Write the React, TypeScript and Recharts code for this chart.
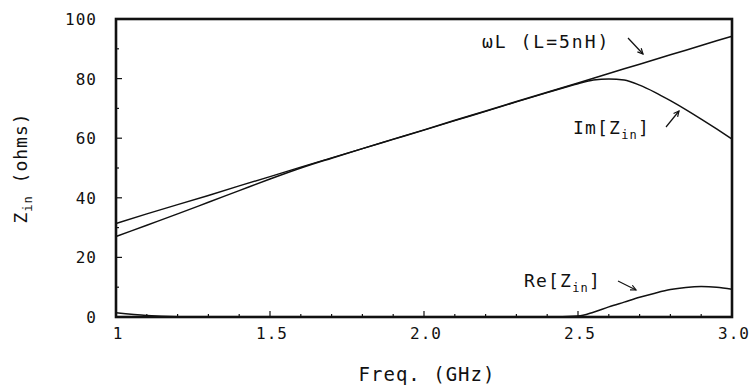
import React from "react";
import { LineChart, Line, XAxis, YAxis } from "recharts";

// values
const freq = [1.0, 1.1, 1.2, 1.3, 1.4, 1.5, 1.6, 1.7, 1.8, 1.9, 2.0, 2.1, 2.2, 2.3, 2.4, 2.5, 2.55, 2.6, 2.65, 2.7, 2.75, 2.8, 2.85, 2.9, 2.95, 3.0];
const omegaL = [31.4, 34.6, 37.7, 40.8, 44.0, 47.1, 50.3, 53.4, 56.5, 59.7, 62.8, 66.0, 69.1, 72.3, 75.4, 78.5, 80.1, 81.7, 83.3, 84.8, 86.4, 88.0, 89.5, 91.1, 92.7, 94.2];
const imZin = [27.0, 30.8, 34.6, 38.5, 42.4, 46.3, 50.0, 53.3, 56.5, 59.6, 62.7, 65.9, 69.0, 72.2, 75.3, 78.3, 79.5, 79.9, 79.5, 77.8, 75.4, 72.6, 69.6, 66.4, 63.1, 59.7];
const reZin = [1.4, 0.5, 0.1, 0, 0, 0, 0, 0, 0, 0, 0, 0, 0, 0, 0, 0.3, 1.6, 3.4, 5.0, 6.6, 8.0, 9.2, 9.9, 10.2, 10.0, 9.3];

const xTicks = [1.0, 1.1, 1.2, 1.3, 1.4, 1.5, 1.6, 1.7, 1.8, 1.9, 2.0, 2.1, 2.2, 2.3, 2.4, 2.5, 2.6, 2.7, 2.8, 2.9, 3.0];
const xTickLabels: Record<string, string> = { "1": "1", "1.5": "1.5", "2": "2.0", "2.5": "2.5", "3": "3.0" };
const yTicks = [0, 10, 20, 30, 40, 50, 60, 70, 80, 90, 100];
const yTickLabels: Record<string, string> = { "0": "0", "20": "20", "40": "40", "60": "60", "80": "80", "100": "100" };

const data = freq.map((f, i) => ({ f, wl: omegaL[i], im: imZin[i], re: reZin[i] }));

const FONT = "'DejaVu Sans Mono', monospace";
const INK = "#111";

// chart box
const W = 754;
const H = 389;
const MARGIN = { top: 19, right: 22, bottom: 42, left: 56 };
const Y_AXIS_W = 60;
const X_AXIS_H = 30;
const plot = {
  left: MARGIN.left + Y_AXIS_W,
  top: MARGIN.top,
  width: W - MARGIN.left - Y_AXIS_W - MARGIN.right,
  height: H - MARGIN.top - MARGIN.bottom - X_AXIS_H,
};

const key = (v: number) => String(Math.round(v * 10) / 10);

function BottomTick(props: any) {
  const { x, y, payload } = props;
  const label = xTickLabels[key(payload.value)];
  return (
    <g>
      <line x1={x} x2={x} y1={y} y2={y - (label ? 6 : 3)} stroke={INK} strokeWidth={1.2} />
      {label && (
        <text x={x + 2} y={y + 22} textAnchor="middle" fontSize={16} fontFamily={FONT} letterSpacing={1} fill={INK}>
          {label}
        </text>
      )}
    </g>
  );
}

function TopTick(props: any) {
  const { x, y, payload } = props;
  const major = !!xTickLabels[key(payload.value)];
  return <line x1={x} x2={x} y1={y} y2={y + (major ? 5 : 3)} stroke={INK} strokeWidth={1.2} />;
}

function LeftTick(props: any) {
  const { x, y, payload } = props;
  const label = yTickLabels[String(payload.value)];
  return (
    <g>
      <line x1={x} x2={x + (label ? 6 : 3)} y1={y} y2={y} stroke={INK} strokeWidth={1.2} />
      {label && (
        <text x={x - 19} y={y + 6} textAnchor="end" fontSize={16} fontFamily={FONT} letterSpacing={1} fill={INK}>
          {label}
        </text>
      )}
    </g>
  );
}

function RightTick(props: any) {
  const { x, y } = props;
  return <line x1={x} x2={x - 6} y1={y} y2={y} stroke={INK} strokeWidth={1.2} />;
}

function Arrow({ x1, y1, x2, y2 }: { x1: number; y1: number; x2: number; y2: number }) {
  const a = Math.atan2(y2 - y1, x2 - x1);
  const h = 6;
  const s = 0.45;
  return (
    <g stroke={INK} strokeWidth={1.2} fill="none">
      <line x1={x1} y1={y1} x2={x2} y2={y2} />
      <polyline
        points={`${x2 - h * Math.cos(a - s)},${y2 - h * Math.sin(a - s)} ${x2},${y2} ${x2 - h * Math.cos(a + s)},${y2 - h * Math.sin(a + s)}`}
      />
    </g>
  );
}

export default function App() {
  return (
    <div style={{ position: "absolute", left: 0, top: 0, width: W, height: H, background: "#fff" }}>
      <LineChart width={W} height={H} data={data} margin={MARGIN}>
        <XAxis
          dataKey="f"
          type="number"
          domain={[1, 3]}
          ticks={xTicks}
          interval={0}
          axisLine={false}
          tickLine={false}
          tickSize={0}
          tickMargin={0}
          height={X_AXIS_H}
          tick={<BottomTick />}
        />
        <XAxis
          xAxisId="top"
          orientation="top"
          dataKey="f"
          type="number"
          domain={[1, 3]}
          ticks={xTicks}
          interval={0}
          axisLine={false}
          tickLine={false}
          tickSize={0}
          tickMargin={0}
          height={0}
          tick={<TopTick />}
        />
        <YAxis
          type="number"
          domain={[0, 100]}
          ticks={yTicks}
          interval={0}
          axisLine={false}
          tickLine={false}
          tickSize={0}
          tickMargin={0}
          width={Y_AXIS_W}
          tick={<LeftTick />}
        />
        <YAxis
          yAxisId="right"
          orientation="right"
          type="number"
          domain={[0, 100]}
          ticks={yTicks}
          interval={0}
          axisLine={false}
          tickLine={false}
          tickSize={0}
          tickMargin={0}
          width={0}
          tick={<RightTick />}
        />
        <Line dataKey="wl" type="linear" stroke={INK} strokeWidth={1.5} dot={false} isAnimationActive={false} />
        <Line dataKey="im" type="monotone" stroke={INK} strokeWidth={1.5} dot={false} isAnimationActive={false} />
        <Line dataKey="re" type="monotone" stroke={INK} strokeWidth={1.5} dot={false} isAnimationActive={false} />
      </LineChart>

      <svg width={W} height={H} style={{ position: "absolute", left: 0, top: 0, pointerEvents: "none" }}>
        <rect x={plot.left} y={plot.top} width={plot.width} height={plot.height} fill="none" stroke={INK} strokeWidth={2.6} />
        <g fontFamily={FONT} fill={INK}>
          <text x={482} y={48} fontSize={18} letterSpacing={2}>ωL (L=5nH)</text>
          <text x={573} y={134} fontSize={18} letterSpacing={1.2}>
            Im[Z<tspan fontSize={12} dy={5}>in</tspan><tspan dy={-5}>]</tspan>
          </text>
          <text x={524} y={287} fontSize={18} letterSpacing={1.2}>
            Re[Z<tspan fontSize={12} dy={5}>in</tspan><tspan dy={-5}>]</tspan>
          </text>
          <text x={427} y={381} fontSize={19} letterSpacing={1} textAnchor="middle">Freq. (GHz)</text>
          <text x={27} y={168} fontSize={18} letterSpacing={1} textAnchor="middle" transform="rotate(-90 27 168)">
            Z<tspan fontSize={12} dy={5}>in</tspan><tspan dy={-5}> (ohms)</tspan>
          </text>
        </g>
        <Arrow x1={628} y1={38} x2={643} y2={54} />
        <Arrow x1={666} y1={127} x2={679} y2={111} />
        <Arrow x1={618} y1={281} x2={636} y2={290} />
      </svg>
    </div>
  );
}
